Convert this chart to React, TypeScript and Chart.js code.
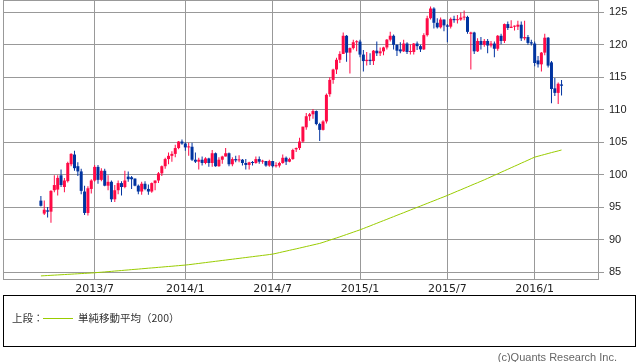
import React, { useEffect, useRef } from "react";
import { Chart, registerables } from "chart.js";

Chart.register(...registerables);

// Weekly USD/JPY candles, week 0 = 2013-03-11 ... week 155 = 2016-02-29
const opens = [
  96.0, 94.0, 94.5, 94.3, 97.6, 97.7, 99.9, 98.1, 99.0, 101.6,
  103.1, 101.3, 100.5, 97.4, 94.1, 97.8, 99.1, 101.2, 99.2, 100.6,
  98.3, 98.9, 96.2, 97.6, 98.7, 98.1, 99.7, 99.6, 99.4, 98.3,
  97.4, 98.6, 97.8, 97.4, 98.7, 99.1, 100.2, 101.3, 102.4, 102.9,
  103.2, 104.1, 105.1, 104.8, 104.2, 104.3, 102.3, 102.0, 102.3, 101.8,
  102.5, 101.8, 103.3, 101.3, 102.3, 102.8, 103.3, 101.6, 102.4, 102.2,
  102.3, 101.8, 101.5, 101.9, 101.8, 102.4, 102.0, 102.1, 101.4, 102.1,
  101.3, 101.4, 101.8, 102.6, 102.0, 102.4, 103.9, 104.1, 105.1, 107.3,
  109.0, 109.3, 109.8, 107.8, 106.9, 108.2, 112.4, 114.6, 116.2, 117.7,
  118.6, 121.4, 118.8, 119.5, 120.4, 120.5, 118.5, 117.5, 117.7, 117.5,
  119.1, 118.7, 119.0, 119.6, 120.8, 121.4, 120.0, 119.3, 119.0, 120.2,
  118.9, 118.9, 120.2, 119.8, 119.3, 121.5, 124.1, 125.6, 123.4, 122.7,
  123.9, 123.0, 122.8, 124.0, 123.8, 123.9, 124.2, 124.3, 121.7, 121.9,
  119.0, 120.6, 120.0, 120.6, 119.9, 120.2, 119.4, 121.4, 120.6, 123.2,
  122.6, 122.8, 122.8, 123.1, 121.0, 121.2, 120.4, 120.2, 117.6, 117.0,
  118.8, 121.1, 117.3, 113.3, 112.6, 113.9,
];
const highs = [
  96.7, 96.0, 95.0, 97.6, 99.9, 99.9, 100.8, 99.5, 102.0, 103.3,
  103.7, 101.9, 100.9, 98.3, 98.2, 99.3, 101.5, 101.5, 101.0, 100.9,
  99.9, 99.1, 98.4, 99.1, 99.0, 100.6, 100.5, 99.8, 99.4, 98.5,
  98.9, 99.0, 98.5, 98.8, 99.1, 100.4, 101.4, 102.6, 103.4, 103.6,
  104.6, 105.2, 105.4, 105.0, 104.9, 104.9, 103.4, 102.6, 102.8, 102.7,
  102.6, 103.8, 103.4, 102.7, 102.9, 104.1, 103.4, 102.7, 102.9, 103.0,
  102.4, 102.4, 102.0, 102.1, 102.8, 102.8, 102.3, 102.1, 102.3, 102.1,
  101.9, 102.0, 103.1, 102.8, 102.6, 104.0, 104.2, 105.7, 107.4, 109.5,
  109.5, 110.1, 109.9, 108.0, 108.4, 112.5, 115.0, 116.3, 118.0, 119.0,
  121.9, 121.5, 119.6, 120.8, 120.7, 120.8, 119.2, 118.9, 118.7, 119.2,
  120.5, 119.6, 119.7, 120.9, 122.0, 121.6, 120.1, 120.4, 120.8, 120.4,
  120.1, 120.3, 120.5, 120.0, 121.8, 124.5, 125.9, 125.8, 124.1, 124.2,
  123.9, 123.2, 124.2, 124.5, 124.6, 125.0, 125.3, 124.5, 122.0, 122.0,
  121.0, 121.2, 120.9, 120.9, 120.6, 120.5, 121.5, 121.7, 123.3, 123.6,
  123.8, 123.0, 123.7, 123.6, 123.7, 121.5, 120.8, 120.5, 118.3, 118.9,
  121.7, 121.2, 117.5, 114.9, 114.2, 114.6,
];
const lows = [
  95.1, 93.8, 93.4, 92.6, 97.3, 96.8, 98.1, 97.3, 98.8, 101.3,
  100.6, 99.8, 97.0, 93.8, 93.7, 97.1, 98.9, 98.6, 99.0, 98.2,
  97.6, 95.8, 95.8, 97.0, 96.8, 97.9, 98.9, 97.8, 98.2, 97.0,
  96.9, 97.6, 96.9, 97.2, 97.6, 98.7, 99.8, 100.9, 101.6, 102.0,
  102.7, 103.9, 104.6, 103.7, 102.9, 102.1, 101.8, 100.8, 101.4, 101.6,
  101.2, 101.2, 101.2, 101.2, 101.7, 102.8, 101.3, 101.3, 101.9, 101.9,
  101.4, 100.8, 100.8, 101.4, 101.7, 101.7, 101.7, 101.2, 101.2, 101.1,
  101.1, 101.1, 101.7, 101.5, 101.9, 102.3, 103.5, 103.8, 104.9, 106.9,
  108.3, 108.6, 107.6, 105.2, 106.8, 107.9, 112.0, 114.0, 115.5, 117.2,
  118.6, 117.4, 115.6, 119.3, 119.0, 118.1, 115.9, 116.8, 116.9, 116.9,
  118.3, 118.3, 118.4, 119.3, 120.5, 119.3, 118.3, 118.7, 118.9, 118.6,
  118.5, 118.5, 119.2, 118.9, 119.2, 121.3, 123.9, 122.5, 122.5, 122.5,
  122.1, 120.4, 122.5, 123.4, 123.3, 123.7, 123.8, 121.7, 116.2, 118.6,
  118.9, 119.3, 119.7, 118.7, 119.6, 118.1, 119.1, 120.1, 120.3, 122.3,
  122.6, 122.2, 122.3, 120.6, 120.7, 120.0, 119.9, 116.7, 116.5, 115.9,
  118.4, 116.5, 111.0, 112.1, 110.9, 112.2,
];
const closes = [
  95.2, 94.6, 94.3, 97.5, 98.4, 99.5, 98.4, 99.1, 101.8, 103.2,
  101.0, 100.5, 97.5, 94.1, 97.9, 99.1, 101.2, 99.2, 100.6, 98.3,
  98.9, 96.2, 97.6, 98.7, 98.1, 99.1, 99.3, 99.3, 98.3, 97.4,
  98.6, 97.8, 97.4, 98.7, 99.1, 100.2, 101.3, 102.4, 102.9, 103.2,
  104.1, 105.1, 104.8, 104.2, 104.3, 102.3, 102.0, 102.3, 101.8, 102.5,
  101.8, 103.3, 101.3, 102.3, 102.8, 103.3, 101.6, 102.4, 102.2, 102.3,
  101.8, 101.5, 101.9, 101.8, 102.4, 102.0, 102.1, 101.4, 102.1, 101.3,
  101.4, 101.8, 102.6, 102.0, 102.4, 103.8, 104.1, 105.1, 107.4, 109.0,
  109.3, 109.8, 107.8, 106.9, 108.2, 112.3, 114.6, 116.2, 117.7, 118.6,
  121.4, 118.8, 119.5, 120.4, 120.5, 118.5, 117.5, 117.7, 117.5, 119.1,
  118.7, 119.0, 119.6, 120.8, 121.4, 120.0, 119.1, 119.0, 120.2, 118.9,
  119.0, 120.2, 119.8, 119.3, 121.5, 124.1, 125.6, 123.4, 122.7, 123.9,
  123.0, 122.8, 124.0, 123.8, 123.9, 124.2, 124.3, 122.0, 121.9, 119.0,
  120.6, 120.0, 120.6, 119.9, 120.2, 119.4, 121.4, 120.6, 123.2, 122.6,
  122.8, 122.9, 123.1, 121.0, 121.2, 120.3, 120.2, 117.2, 117.0, 118.8,
  121.1, 116.8, 113.2, 112.6, 114.0, 113.7,
];
// 200-week simple moving average
const sma200 = [
  84.40, 84.43, 84.46, 84.49, 84.52, 84.55, 84.58, 84.61, 84.64, 84.67,
  84.70, 84.73, 84.76, 84.79, 84.82, 84.85, 84.88, 84.93, 84.97, 85.01,
  85.06, 85.10, 85.15, 85.19, 85.23, 85.28, 85.32, 85.37, 85.41, 85.45,
  85.50, 85.54, 85.59, 85.63, 85.67, 85.72, 85.76, 85.81, 85.85, 85.89,
  85.94, 85.98, 86.03, 86.07, 86.13, 86.19, 86.26, 86.32, 86.39, 86.45,
  86.52, 86.58, 86.65, 86.71, 86.78, 86.84, 86.91, 86.97, 87.04, 87.10,
  87.17, 87.23, 87.30, 87.36, 87.43, 87.49, 87.56, 87.62, 87.69, 87.76,
  87.87, 87.99, 88.11, 88.22, 88.34, 88.46, 88.57, 88.69, 88.81, 88.93,
  89.05, 89.17, 89.29, 89.41, 89.57, 89.74, 89.91, 90.08, 90.25, 90.42,
  90.60, 90.78, 90.96, 91.14, 91.32, 91.50, 91.70, 91.90, 92.10, 92.31,
  92.51, 92.72, 92.92, 93.12, 93.33, 93.53, 93.74, 93.94, 94.14, 94.35,
  94.55, 94.76, 94.96, 95.16, 95.37, 95.57, 95.78, 95.98, 96.18, 96.39,
  96.59, 96.80, 97.02, 97.24, 97.46, 97.67, 97.89, 98.11, 98.33, 98.55,
  98.76, 98.98, 99.20, 99.43, 99.67, 99.90, 100.13, 100.37, 100.60, 100.83,
  101.07, 101.30, 101.53, 101.77, 102.00, 102.23, 102.47, 102.70, 102.84, 102.98,
  103.12, 103.26, 103.40, 103.53, 103.66, 103.80,
];

const xTickWeeks = [16, 43, 69, 95, 121, 147];
const xTickLabels = ["2013/7", "2014/1", "2014/7", "2015/1", "2015/7", "2016/1"];
const yTickValues = [85, 90, 95, 100, 105, 110, 115, 120, 125];

const UP = "#ff0a46";
const DOWN = "#0033a0";
const SMA_COLOR = "#99cc00";
const GRID = "#999999";

const plotBorder = {
  id: "plotBorder",
  beforeDatasetsDraw(chart: any) {
    const { ctx, chartArea } = chart;
    ctx.save();
    ctx.strokeStyle = GRID;
    ctx.lineWidth = 1;
    ctx.strokeRect(
      chartArea.left + 0.5,
      chartArea.top + 0.5,
      chartArea.right - chartArea.left - 1,
      chartArea.bottom - chartArea.top - 1
    );
    ctx.restore();
  },
};

export default function App() {
  const ref = useRef<HTMLCanvasElement | null>(null);

  useEffect(() => {
    if (!ref.current) return;
    const idx = closes.map((_, i) => i);
    const colors = idx.map((i) => (closes[i] >= opens[i] ? UP : DOWN));
    const chart = new Chart(ref.current, {
      type: "bar",
      data: {
        datasets: [
          {
            type: "line",
            data: sma200.map((v, i) => ({ x: i, y: v })),
            borderColor: SMA_COLOR,
            borderWidth: 1,
            pointRadius: 0,
            tension: 0,
            order: 0,
          } as any,
          {
            type: "bar",
            data: idx.map((i) => ({ x: i, y: [lows[i], highs[i]] })),
            backgroundColor: colors,
            borderWidth: 0,
            barThickness: 1,
            inflateAmount: 0,
            grouped: false,
            order: 2,
          } as any,
          {
            type: "bar",
            data: idx.map((i) => ({
              x: i,
              y: [Math.min(opens[i], closes[i]), Math.max(opens[i], closes[i])],
            })),
            backgroundColor: colors,
            borderWidth: 0,
            barThickness: 3,
            inflateAmount: 0,
            minBarLength: 1,
            grouped: false,
            order: 1,
          } as any,
        ],
      },
      options: {
        animation: false,
        responsive: false,
        maintainAspectRatio: false,
        devicePixelRatio: 1,
        layout: { padding: { left: 3, top: 0, right: 0, bottom: 0 } },
        plugins: { legend: { display: false }, tooltip: { enabled: false } },
        scales: {
          x: {
            type: "linear",
            min: -11.28,
            max: 166.15,
            offset: false,
            afterBuildTicks: (s: any) => {
              s.ticks = xTickWeeks.map((v) => ({ value: v }));
            },
            afterFit: (s: any) => {
              s.height = 16;
              s.paddingLeft = 0;
              s.paddingRight = 0;
            },
            grid: { color: GRID, lineWidth: 1, drawTicks: false, offset: false },
            border: { display: false },
            ticks: {
              autoSkip: false,
              maxRotation: 0,
              padding: 3,
              color: "#222",
              font: { family: "DejaVu Sans", size: 11 },
              callback: (v: any) => {
                const k = xTickWeeks.indexOf(Number(v));
                return k >= 0 ? xTickLabels[k] : "";
              },
            },
          },
          y: {
            type: "linear",
            position: "right",
            min: 83.77,
            max: 126.91,
            afterBuildTicks: (s: any) => {
              s.ticks = yTickValues.map((v) => ({ value: v }));
            },
            afterFit: (s: any) => {
              s.width = 39;
              s.paddingTop = 0;
              s.paddingBottom = 0;
            },
            grid: { color: GRID, lineWidth: 1, drawTicks: true, tickLength: 5, offset: false },
            border: { display: false },
            ticks: {
              padding: 5,
              color: "#222",
              font: { family: "Liberation Sans", size: 11 },
            },
          },
        },
      },
      plugins: [plotBorder],
    } as any);
    return () => chart.destroy();
  }, []);

  return (
    <div
      style={{
        position: "fixed",
        left: 0,
        top: 0,
        width: 638,
        height: 362,
        background: "#fff",
        overflow: "hidden",
      }}
    >
      <canvas
        ref={ref}
        width={638}
        height={296}
        style={{ position: "absolute", left: 0, top: 0, width: 638, height: 296 }}
      />
      <div
        style={{
          position: "absolute",
          left: 3,
          top: 295,
          width: 633,
          height: 52,
          boxSizing: "border-box",
          border: "1px solid #000",
          fontFamily: "'Noto Sans CJK JP', sans-serif",
          fontSize: 10.5,
          color: "#333",
        }}
      >
        <span style={{ position: "absolute", left: 8, top: 15, lineHeight: "14px" }}>上段：</span>
        <span
          style={{
            position: "absolute",
            left: 39,
            top: 22,
            width: 30,
            height: 1,
            background: SMA_COLOR,
          }}
        />
        <span style={{ position: "absolute", left: 74, top: 15, lineHeight: "14px" }}>
          単純移動平均（200）
        </span>
      </div>
      <div
        style={{
          position: "absolute",
          right: 21,
          top: 351,
          fontFamily: "'Liberation Sans', Arial, sans-serif",
          fontSize: 11,
          lineHeight: "13px",
          color: "#666",
          whiteSpace: "nowrap",
        }}
      >
        (c)Quants Research Inc.
      </div>
    </div>
  );
}
